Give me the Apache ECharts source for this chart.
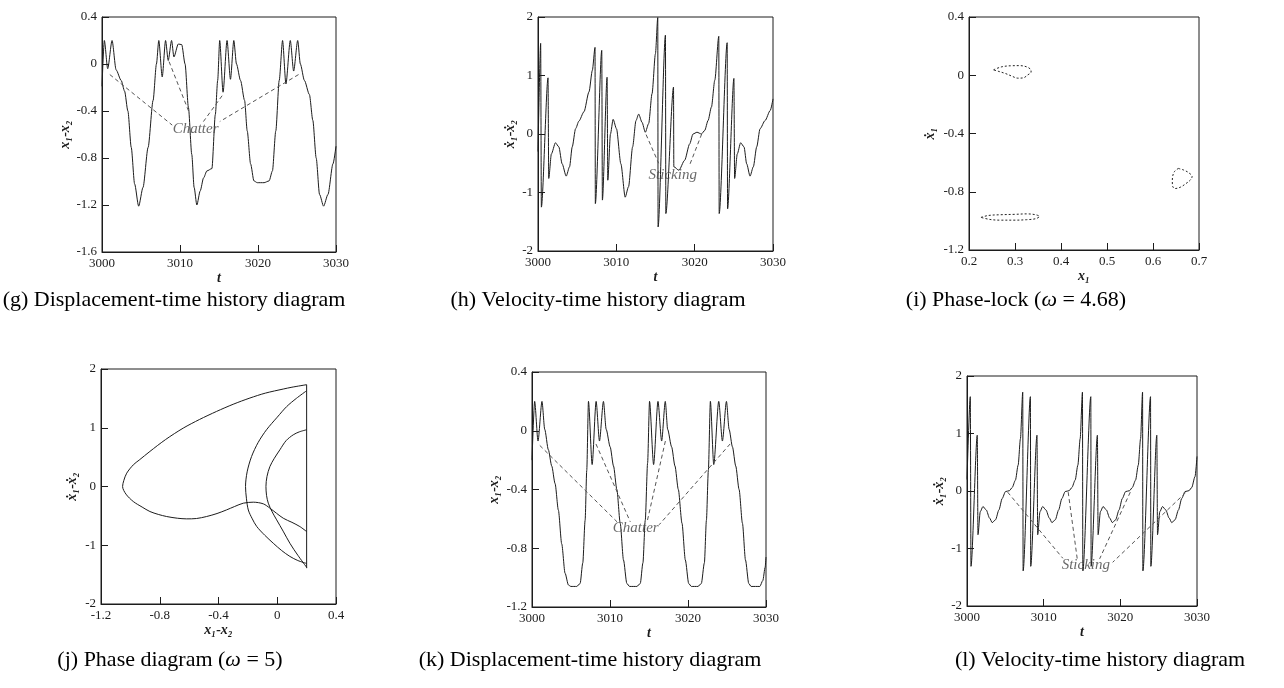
<!DOCTYPE html>
<html>
<head>
<meta charset="utf-8">
<script src="https://cdn.jsdelivr.net/npm/echarts@6/dist/echarts.min.js"></script>
<style>
  html, body { margin: 0; padding: 0; background: #fff; }
  #chart { width: 1284px; height: 688px; }
</style>
</head>
<body>
<div id="chart"></div>
<script>
const SERIF = "'Liberation Serif', 'Times New Roman', 'DejaVu Serif', serif";
const INK = '#1c1c1c';

// axis ranges: [min, max, interval]
const timeRange = [3000, 3030, 10];
const dispRangeG = [-1.6, 0.4, 0.4];
const dispRangeK = [-1.2, 0.4, 0.4];
const velRange = [-2, 2, 1];
const lockXRange = [0.2, 0.7, 0.1];
const lockYRange = [-1.2, 0.4, 0.4];
const phaseXRange = [-1.2, 0.4, 0.4];

// axis names
const nameT = 't';
const nameDisp = 'x\u2081-x\u2082';
const nameVel = '\u1e8b\u2081-\u1e8b\u2082';
const nameX1 = 'x\u2081';
const nameV1 = '\u1e8b\u2081';

// captions
const captionTexts = [
  '(g) Displacement-time history diagram',
  '(h) Velocity-time history diagram',
  '(i) Phase-lock ({w|\u03c9} = 4.68)',
  '(j) Phase diagram ({w|\u03c9} = 5)',
  '(k) Displacement-time history diagram',
  '(l) Velocity-time history diagram'
];

// (g) displacement, omega = 4.68
const dispG = [[3000,-0.19],[3000.3,0.2],[3000.73,-0.04],[3001.29,0.2],[3001.81,-0.05],[3002.46,-0.14],
  [3002.89,-0.23],[3003.32,-0.4],[3003.75,-0.71],[3004.18,-1.02],[3004.7,-1.21],[3005.26,-1.05],
  [3005.91,-0.71],[3006.55,-0.31],[3006.98,0.0],[3007.28,0.2],[3007.72,-0.11],[3008.15,0.2],
  [3008.49,0.03],[3008.92,0.2],[3009.22,0.06],[3009.78,0.17],[3010.22,0.165],[3010.65,0.0],
  [3011.08,-0.37],[3011.51,-0.77],[3011.81,-1.05],[3012.16,-1.2],[3012.59,-1.08],[3013.02,-0.97],
  [3013.45,-0.91],[3014.09,-0.89],[3014.53,-0.43],[3014.83,-0.14],[3015.09,0.2],[3015.52,-0.24],
  [3016.03,0.2],[3016.47,-0.13],[3016.9,0.2],[3017.24,0.0],[3017.76,-0.14],[3018.28,-0.31],
  [3018.62,-0.57],[3019.05,-0.85],[3019.48,-0.995],[3019.91,-1.01],[3020.78,-1.01],[3021.42,-0.995],
  [3021.85,-0.91],[3022.28,-0.57],[3022.72,-0.14],[3023.15,0.2],[3023.58,-0.17],[3024.14,0.2],
  [3024.57,-0.06],[3025.09,0.2],[3025.43,0.0],[3025.95,-0.14],[3026.59,-0.26],[3027.03,-0.48],
  [3027.46,-0.8],[3027.89,-1.11],[3028.41,-1.21],[3028.97,-1.11],[3029.61,-0.85],[3030,-0.7]];
const chatterG = [
  [[3001.0,-0.09],[3009.0,-0.52]],
  [[3008.6,0.02],[3011.1,-0.4]],
  [[3015.4,-0.27],[3013.0,-0.49]],
  [[3025.2,-0.09],[3015.1,-0.49]]];
const chatterGText = [3012.0, -0.55];

// (h) velocity, omega = 4.68
const velH = [[3000,-0.3],[3000.34,1.55],[3000.43,-1.25],[3001.28,0.96],[3001.37,-0.76],[3001.71,-0.34],
  [3002.23,-0.15],[3002.66,-0.22],[3003.08,-0.51],[3003.6,-0.72],[3004.03,-0.56],[3004.37,-0.22],
  [3004.8,0.09],[3005.22,0.22],[3005.87,0.38],[3006.51,0.72],[3006.94,1.09],[3007.28,1.48],
  [3007.32,-1.19],[3008.14,1.43],[3008.22,-1.13],[3008.82,0.97],[3008.91,-0.79],[3009.25,0.0],
  [3009.59,0.25],[3010.02,0.09],[3010.58,-0.51],[3011.13,-1.08],[3011.56,-0.9],[3012.08,-0.22],
  [3012.51,0.23],[3012.85,0.34],[3013.28,0.2],[3013.7,0.03],[3014.13,0.18],[3014.56,0.69],
  [3014.99,1.37],[3015.29,1.99],[3015.33,-1.59],[3016.27,1.69],[3016.32,-1.36],[3017.3,0.8],
  [3017.34,-0.56],[3017.99,-0.62],[3018.72,-0.45],[3019.36,-0.17],[3019.79,0.0],[3020.3,0.03],
  [3020.86,0.0],[3021.28,0.06],[3021.71,0.23],[3022.14,0.46],[3022.57,0.92],[3023.08,1.67],
  [3023.13,-1.36],[3024.15,1.56],[3024.2,-1.28],[3025.01,0.95],[3025.1,-0.76],[3025.44,-0.34],
  [3025.87,-0.15],[3026.3,-0.22],[3026.64,-0.51],[3027.07,-0.72],[3027.49,-0.56],[3027.92,-0.22],
  [3028.35,0.09],[3028.99,0.23],[3029.64,0.4],[3030,0.6]];
const stickH = [
  [[3013.8,-0.01],[3015.4,-0.5]],
  [[3020.9,0.0],[3019.3,-0.55]]];
const stickHText = [3017.2, -0.7];

// (i) phase-lock loops (x1, x1')
const lockA = [[0.253,0.037],[0.27,0.057],[0.29,0.065],[0.31,0.066],[0.325,0.058],[0.334,0.04],
  [0.335,0.022],[0.328,0.003],[0.318,-0.018],[0.306,-0.02],[0.293,-0.006],[0.28,0.011],
  [0.265,0.026],[0.253,0.037]];
const lockB = [[0.655,-0.64],[0.666,-0.65],[0.677,-0.668],[0.685,-0.695],[0.681,-0.72],[0.671,-0.745],
  [0.66,-0.768],[0.648,-0.778],[0.643,-0.765],[0.642,-0.73],[0.643,-0.69],[0.647,-0.66],[0.655,-0.64]];
const lockC = [[0.226,-0.976],[0.242,-0.963],[0.267,-0.958],[0.3,-0.955],[0.325,-0.952],[0.345,-0.958],
  [0.353,-0.97],[0.345,-0.985],[0.325,-0.992],[0.3,-0.995],[0.267,-0.995],[0.245,-0.99],[0.226,-0.976]];

// (j) phase diagram, omega = 5
const phaseOuter = [[0.2,1.733],[0.1,1.69],[0.041,1.659],[-0.08,1.59],[-0.186,1.506],[-0.3,1.4],
  [-0.413,1.278],[-0.53,1.14],[-0.64,0.994],[-0.76,0.8],[-0.867,0.597],[-0.94,0.45],[-0.98,0.369],
  [-1.025,0.227],[-1.045,0.1],[-1.053,0],[-1.03,-0.13],[-0.98,-0.256],[-0.92,-0.35],[-0.867,-0.426],
  [-0.81,-0.475],[-0.753,-0.511],[-0.68,-0.54],[-0.617,-0.551],[-0.55,-0.545],[-0.481,-0.511],
  [-0.41,-0.46],[-0.345,-0.398],[-0.29,-0.34],[-0.231,-0.284],[-0.163,-0.267],[-0.095,-0.295],
  [-0.05,-0.369],[0.041,-0.54],[0.1,-0.61],[0.154,-0.682],[0.2,-0.767]];
const phaseMid = [[0.2,1.63],[0.13,1.5],[0.064,1.36],[0.0,1.18],[-0.073,0.966],[-0.13,0.75],
  [-0.175,0.51],[-0.205,0.25],[-0.216,0],[-0.21,-0.2],[-0.197,-0.4],[-0.17,-0.55],[-0.14,-0.68],
  [-0.085,-0.83],[-0.027,-0.966],[0.03,-1.09],[0.086,-1.19],[0.14,-1.26],[0.2,-1.31]];
const phaseInner = [[0.2,0.966],[0.15,0.93],[0.109,0.88],[0.06,0.78],[0.018,0.625],[-0.02,0.48],
  [-0.05,0.34],[-0.07,0.17],[-0.077,0],[-0.073,-0.15],[-0.061,-0.284],[-0.035,-0.43],[-0.004,-0.568],
  [0.04,-0.76],[0.086,-0.966],[0.14,-1.17],[0.2,-1.375]];
const phaseWall = [[0.2,1.733],[0.2,-1.39]];

// (k) displacement, omega = 5
const dispK = [[3000,-0.2],[3000.34,0.2],[3000.77,-0.07],[3001.28,0.2],[3001.63,0.01],[3002.1,-0.13],
  [3002.53,-0.24],[3002.96,-0.36],[3003.38,-0.54],[3003.81,-0.77],[3004.24,-0.97],[3004.67,-1.05],
  [3004.97,-1.06],[3005.74,-1.06],[3006.17,-1.04],[3006.51,-0.9],[3006.81,-0.61],[3007.02,-0.27],
  [3007.24,0.2],[3007.71,-0.23],[3008.22,0.2],[3008.65,-0.07],[3009.16,0.2],[3009.51,0.01],
  [3010.02,-0.11],[3010.45,-0.24],[3010.88,-0.4],[3011.31,-0.63],[3011.73,-0.88],[3012.16,-1.04],
  [3012.51,-1.06],[3013.45,-1.06],[3013.88,-1.04],[3014.22,-0.9],[3014.52,-0.61],[3014.82,-0.22],
  [3015.07,0.2],[3015.59,-0.23],[3016.15,0.2],[3016.62,-0.07],[3017.09,0.2],[3017.39,0.01],
  [3017.9,-0.11],[3018.33,-0.24],[3018.76,-0.4],[3019.23,-0.63],[3019.66,-0.88],[3020.09,-1.04],
  [3020.43,-1.06],[3021.28,-1.06],[3021.71,-1.04],[3022.1,-0.9],[3022.36,-0.61],[3022.61,-0.27],
  [3022.87,0.2],[3023.3,-0.23],[3023.94,0.2],[3024.41,-0.07],[3024.93,0.2],[3025.27,0.01],
  [3025.7,-0.11],[3026.12,-0.24],[3026.55,-0.4],[3026.98,-0.63],[3027.37,-0.88],[3027.79,-1.04],
  [3028.09,-1.06],[3029.21,-1.06],[3029.59,-1.02],[3029.89,-0.93],[3030,-0.86]];
const chatterK = [
  [[3001.0,-0.1],[3010.9,-0.62]],
  [[3008.2,-0.09],[3012.6,-0.62]],
  [[3017.1,-0.07],[3014.8,-0.61]],
  [[3025.4,-0.09],[3016.3,-0.64]]];
const chatterKText = [3013.3, -0.66];

// (l) velocity, omega = 5
const velL = [[3000,0.2],[3000.43,1.64],[3000.52,-1.31],[3001.34,0.97],[3001.43,-0.76],[3001.73,-0.36],
  [3002.08,-0.27],[3002.51,-0.33],[3002.94,-0.47],[3003.29,-0.55],[3003.72,-0.5],[3004.16,-0.33],
  [3004.59,-0.13],[3005.02,-0.01],[3005.54,0.006],[3005.89,0.06],[3006.32,0.19],[3006.67,0.45],
  [3006.97,0.91],[3007.27,1.72],[3007.32,-1.39],[3008.27,1.64],[3008.31,-1.31],[3009.13,0.97],
  [3009.22,-0.76],[3009.52,-0.36],[3009.87,-0.27],[3010.3,-0.33],[3010.74,-0.47],[3011.08,-0.55],
  [3011.52,-0.5],[3011.95,-0.33],[3012.38,-0.13],[3012.81,-0.01],[3013.33,0.006],[3013.68,0.06],
  [3014.11,0.19],[3014.46,0.45],[3014.76,0.91],[3015.06,1.72],[3015.11,-1.39],[3016.15,1.64],
  [3016.19,-1.31],[3017.01,0.97],[3017.1,-0.76],[3017.4,-0.36],[3017.75,-0.27],[3018.18,-0.33],
  [3018.61,-0.47],[3018.96,-0.55],[3019.39,-0.5],[3019.83,-0.33],[3020.26,-0.13],[3020.69,-0.01],
  [3021.21,0.006],[3021.56,0.06],[3021.99,0.19],[3022.34,0.45],[3022.64,0.91],[3022.9,1.72],
  [3022.94,-1.39],[3023.94,1.64],[3023.98,-1.31],[3024.76,0.97],[3024.85,-0.76],[3025.15,-0.36],
  [3025.5,-0.27],[3025.93,-0.33],[3026.36,-0.47],[3026.71,-0.55],[3027.14,-0.5],[3027.58,-0.33],
  [3028.01,-0.13],[3028.44,-0.01],[3028.96,0.006],[3029.31,0.06],[3029.74,0.25],[3030,0.6]];
const stickL = [
  [[3005.3,-0.02],[3012.5,-1.17]],
  [[3013.2,-0.02],[3014.4,-1.2]],
  [[3021.3,-0.02],[3017.3,-1.18]],
  [[3028.5,-0.03],[3019.0,-1.24]]];
const stickLText = [3015.5, -1.28];

// ---------- layout ----------
const panels = [
  { grid: { left: 102, top: 17, width: 234, height: 235 }, x: timeRange, y: dispRangeG, xName: nameT, yName: nameDisp, xGap: 17, yGap: 27 },
  { grid: { left: 538, top: 17, width: 235, height: 234 }, x: timeRange, y: velRange, xName: nameT, yName: nameVel, xGap: 17, yGap: 21 },
  { grid: { left: 969, top: 17, width: 230, height: 233 }, x: lockXRange, y: lockYRange, xName: nameX1, yName: nameV1, xGap: 19, yGap: 32 },
  { grid: { left: 101, top: 369, width: 235, height: 235 }, x: phaseXRange, y: velRange, xName: nameDisp, yName: nameVel, xGap: 14, yGap: 22 },
  { grid: { left: 532, top: 372, width: 234, height: 235 }, x: timeRange, y: dispRangeK, xName: nameT, yName: nameDisp, xGap: 17, yGap: 31 },
  { grid: { left: 967, top: 376, width: 230, height: 230 }, x: timeRange, y: velRange, xName: nameT, yName: nameVel, xGap: 18, yGap: 21 }
];
const captionPos = [[174, 300], [598, 300], [1016, 300], [170, 660], [590, 660], [1100, 660]];

// plain numbers: no thousands separator, no float noise
const tickText = v => String(Math.round(v * 1000) / 1000);

function axis(idx, r, name, gap) {
  return {
    gridIndex: idx, type: 'value', min: r[0], max: r[1], interval: r[2],
    name: name, nameLocation: 'middle', nameGap: gap,
    nameTextStyle: { fontFamily: SERIF, fontSize: 14, fontWeight: 'bold', fontStyle: 'italic', color: INK },
    axisLine: { show: true, onZero: false, lineStyle: { color: INK, width: 1 } },
    axisTick: { show: true, inside: true, length: 7, lineStyle: { color: INK, width: 1 } },
    axisLabel: { show: true, margin: 5, fontFamily: SERIF, fontSize: 13, color: INK, formatter: tickText },
    splitLine: { show: false }
  };
}

function line(idx, data, extra) {
  return Object.assign({
    type: 'line', xAxisIndex: idx, yAxisIndex: idx, data: data,
    symbol: 'none', showSymbol: false, silent: true, clip: true,
    lineStyle: { color: INK, width: 1 }
  }, extra || {});
}

function dashes(idx, segs) {
  return segs.map(s => line(idx, s, { lineStyle: { color: '#555', width: 1, type: [4, 3] }, z: 3 }));
}

function note(idx, pos, text) {
  return {
    type: 'scatter', xAxisIndex: idx, yAxisIndex: idx, data: [pos], symbolSize: 1, silent: true, z: 6,
    itemStyle: { color: 'rgba(0,0,0,0)' },
    label: { show: true, position: 'inside', formatter: text, fontFamily: SERIF, fontStyle: 'italic', fontSize: 15, color: '#444' }
  };
}

const smoothT = { smooth: 0.25, smoothMonotone: 'x' };
const loopStyle = { smooth: 0.35, lineStyle: { color: '#222', width: 1, type: [2, 2] } };

const series = [
  line(0, dispG, smoothT), ...dashes(0, chatterG), note(0, chatterGText, 'Chatter'),
  line(1, velH, smoothT), ...dashes(1, stickH), note(1, stickHText, 'Sticking'),
  line(2, lockA, loopStyle), line(2, lockB, loopStyle), line(2, lockC, loopStyle),
  line(3, phaseOuter, { smooth: 0.3 }), line(3, phaseMid, { smooth: 0.3 }),
  line(3, phaseInner, { smooth: 0.3 }), line(3, phaseWall),
  line(4, dispK, smoothT), ...dashes(4, chatterK), note(4, chatterKText, 'Chatter'),
  line(5, velL, smoothT), ...dashes(5, stickL), note(5, stickLText, 'Sticking')
];

const option = {
  animation: false,
  backgroundColor: '#fff',
  grid: panels.map(p => Object.assign({ show: true, borderColor: INK, borderWidth: 1, containLabel: false, outerBoundsMode: 'none' }, p.grid)),
  xAxis: panels.map((p, i) => axis(i, p.x, p.xName, p.xGap)),
  yAxis: panels.map((p, i) => axis(i, p.y, p.yName, p.yGap)),
  series: series,
  graphic: captionTexts.map((t, i) => ({
    type: 'text', x: captionPos[i][0], y: captionPos[i][1], silent: true,
    style: {
      text: t, fontFamily: SERIF, fontSize: 22, fill: '#000',
      align: 'center', verticalAlign: 'middle', textAlign: 'center', textVerticalAlign: 'middle',
      rich: { w: { fontFamily: SERIF, fontSize: 22, fontStyle: 'italic', fill: '#000' } }
    }
  }))
};

const chart = echarts.init(document.getElementById('chart'));
chart.setOption(option);
</script>
</body>
</html>
